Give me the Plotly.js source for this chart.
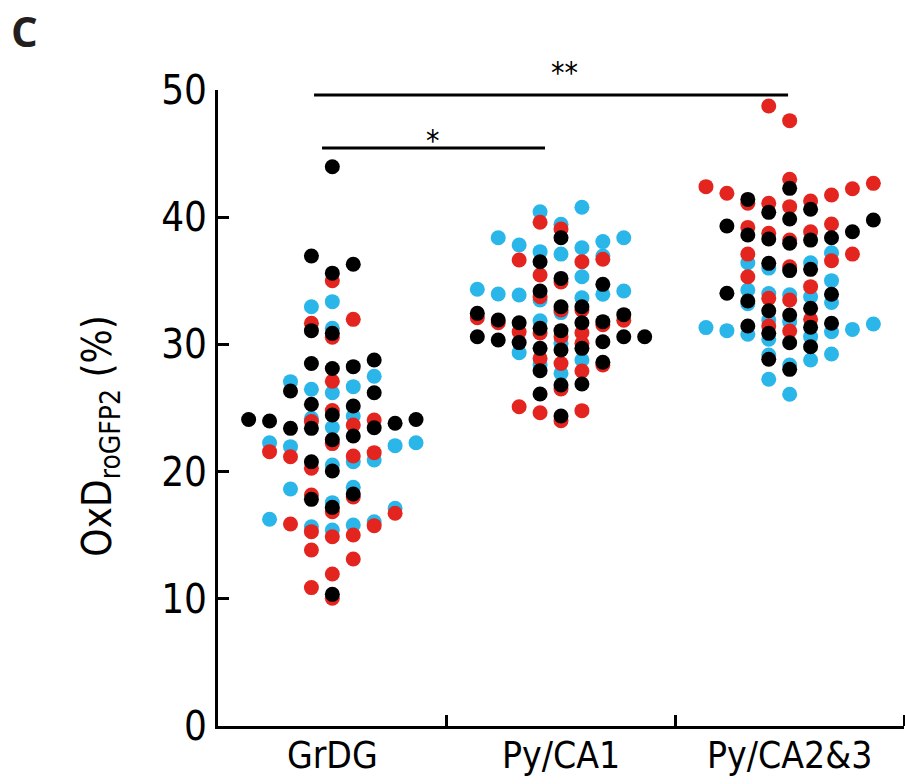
<!DOCTYPE html>
<html>
<head>
<meta charset="utf-8">
<script src="https://cdn.plot.ly/plotly-3.0.1.min.js"></script>
<style>html,body{margin:0;padding:0;background:#fff;}#chart{width:905px;height:784px;}</style>
</head>
<body>
<div id="chart"></div>
<script>
// Categories
const categories = ["GrDG", "Py/CA1", "Py/CA2&3"];

// Swarm column index and OxD values (%) for each group / colour
const grdgBlueCol = [0,-1,0,2,-2,-1,0,1,-1,1,0,-3,-2,3,4,2,1,0,-2,1,0,3,-3,-1,0,1,2];
const grdgBlueY   = [33.36,32.96,31.26,27.5,27.07,26.47,26.2,26.68,24.19,24.37,23.47,22.27,21.96,22.04,22.27,20.91,20.78,20.52,18.63,18.77,17.56,17.11,16.25,15.67,15.41,15.8,16.06];
const grdgRedCol  = [0,1,-1,0,0,-1,0,1,2,0,-3,-2,2,1,-1,-1,1,0,3,-2,-1,0,1,2,-1,1,0,-1,0];
const grdgRedY    = [35.0,31.97,31.66,30.56,27.1,23.93,24.8,23.66,24.06,22.2,21.57,21.17,21.49,21.23,20.26,18.16,18.0,16.85,16.72,15.88,15.28,14.88,15.02,15.75,13.84,13.13,11.95,10.88,10.04];
const grdgBlackCol= [0,-1,1,0,-1,0,-1,0,1,2,-2,2,-1,1,-1,0,1,0,2,-4,-3,-2,3,4,-1,0,-1,1,0,0];
const grdgBlackY  = [43.97,36.95,36.3,35.6,31.08,30.87,28.5,28.1,28.25,28.77,26.34,26.2,25.29,25.16,23.4,24.45,22.8,22.5,23.45,24.1,23.98,23.4,23.8,24.1,20.78,20.05,17.82,18.24,17.19,10.35];

const ca1BlueCol  = [1,-1,0,-3,-2,3,2,-1,0,1,2,1,2,3,-4,-3,-2,-1,1,0,-1,0,-2,-1,1,0];
const ca1BlueY    = [40.78,40.43,39.44,38.39,37.81,38.39,38.08,37.29,37.1,37.6,36.95,35.32,33.94,34.2,34.33,33.96,33.88,33.5,33.67,32.5,31.86,30.1,29.35,28.4,28.77,27.72];
const ca1RedCol   = [-1,0,-2,1,2,-1,0,-1,0,1,-4,-3,-2,-1,0,1,2,3,-1,0,1,2,1,0,-2,-1,0,1];
const ca1RedY     = [39.6,39.07,36.63,36.5,36.69,35.46,34.9,33.75,32.7,32.7,32.1,31.7,31.0,30.9,30.6,30.92,31.55,31.9,28.9,28.5,30.09,28.38,27.91,26.5,25.1,24.63,24.0,24.79];
const ca1BlackCol = [0,-1,0,2,-1,0,1,-4,-3,-2,-1,0,1,2,3,-4,-3,-2,-1,0,1,2,3,4,-1,0,1,2,-1,0];
const ca1BlackY   = [38.39,36.5,35.19,34.72,34.2,32.96,32.96,32.44,31.92,31.7,31.26,31.08,31.7,31.79,32.34,30.6,30.35,30.14,29.69,29.56,29.69,30.21,30.6,30.6,27.93,26.81,26.89,28.6,26.1,24.37];

const ca23BlueCol = [2,-2,-1,1,-2,2,1,2,-2,-1,0,-1,-1,0,1,1,2,2,-2,-4,-3,3,4,-1,0,-1,0];
const ca23BlueY   = [37.2,36.42,36.0,36.42,34.28,35.01,33.75,33.3,33.2,34.0,33.9,31.92,30.4,31.79,30.61,28.77,31.0,29.25,30.8,31.32,31.08,31.18,31.6,29.17,28.38,27.26,26.08];
const ca23RedCol  = [-1,0,-4,-3,-2,-1,0,0,1,2,3,4,-2,-1,0,1,2,-2,3,2,-2,1,-1,0,-1,0,1,0];
const ca23RedY    = [48.74,47.59,42.4,41.88,41.1,41.09,42.98,40.83,41.27,41.75,42.24,42.66,39.2,38.73,38.2,38.86,39.47,37.1,37.1,36.58,35.32,34.54,33.62,33.49,31.45,31.05,31.97,36.1];
const ca23BlackCol= [-2,-1,0,0,1,-3,-2,-1,0,1,2,3,4,-1,0,1,-3,-2,2,1,-1,0,-1,0,1,1,2,-2,-1,0];
const ca23BlackY  = [41.4,40.38,42.27,39.86,40.62,39.31,38.6,38.29,37.95,38.2,38.39,38.86,39.78,36.37,35.8,35.9,34.02,33.41,33.94,32.84,32.65,32.31,30.87,30.13,31.35,29.82,31.66,31.45,28.83,28.04];

const yTicks = [0,10,20,30,40,50];

const BLUE = "#2bb6ea", RED = "#e4251f", BLACK = "#000000";
const COL_STEP = 0.0915;
const FONT = "Liberation Sans Narrow, Arial Narrow, DejaVu Sans Condensed, sans-serif";

function toX(groupIndex, cols) { return cols.map(c => groupIndex + c * COL_STEP); }

const groups = [
  {blue:[grdgBlueCol,grdgBlueY], red:[grdgRedCol,grdgRedY], black:[grdgBlackCol,grdgBlackY]},
  {blue:[ca1BlueCol,ca1BlueY], red:[ca1RedCol,ca1RedY], black:[ca1BlackCol,ca1BlackY]},
  {blue:[ca23BlueCol,ca23BlueY], red:[ca23RedCol,ca23RedY], black:[ca23BlackCol,ca23BlackY]}
];

const traces = [];
[["blue", BLUE], ["red", RED], ["black", BLACK]].forEach(([key, color]) => {
  groups.forEach((g, i) => {
    traces.push({
      type: "scatter", mode: "markers",
      x: toX(i, g[key][0]), y: g[key][1],
      marker: {color: color, size: 15, line: {width: 0}},
      hoverinfo: "y", showlegend: false, cliponaxis: false
    });
  });
});

const layout = {
  width: 905, height: 784,
  margin: {l: 218, r: 1, t: 90, b: 58},
  paper_bgcolor: "#fff", plot_bgcolor: "#fff",
  font: {family: FONT, color: "#000"},
  showlegend: false,
  xaxis: {
    range: [-0.5, 2.5], tickvals: [0,1,2], ticktext: categories,
    ticks: "", showgrid: false, zeroline: false,
    showline: true, linewidth: 3, linecolor: "#000",
    tickfont: {size: 37, family: FONT},
    ticklabelstandoff: -5,
    minor: {tickvals: [0.5,1.5,2.5], ticks: "inside", ticklen: 11, tickwidth: 3, tickcolor: "#000", showgrid: false},
    fixedrange: true
  },
  yaxis: {
    range: [0, 50], tickvals: yTicks, ticktext: yTicks.map(String),
    ticks: "inside", ticklen: 11, tickwidth: 3, tickcolor: "#000",
    showgrid: false, zeroline: false,
    showline: true, linewidth: 3, linecolor: "#000",
    tickfont: {size: 40, family: FONT},
    fixedrange: true
  },
  shapes: [
    {type: "line", xref: "x", yref: "y", x0: -0.08, x1: 1.993, y0: 49.6, y1: 49.6, line: {color: "#000", width: 3}},
    {type: "line", xref: "x", yref: "y", x0: -0.045, x1: 0.93, y0: 45.44, y1: 45.44, line: {color: "#000", width: 3}}
  ],
  annotations: [
    {text: "**", xref: "x", yref: "paper", x: 1.017, y: 1.028, xanchor: "center", yanchor: "middle", showarrow: false, font: {size: 30, family: FONT}},
    {text: "*", xref: "x", yref: "paper", x: 0.44, y: 0.921, xanchor: "center", yanchor: "middle", showarrow: false, font: {size: 30, family: FONT}},
    {text: "<b>C</b>", xref: "paper", yref: "paper", x: -0.305, y: 1.142, xanchor: "left", yanchor: "top", showarrow: false, font: {size: 42, family: "Open Sans, sans-serif", color: "#231f20"}},
    {text: "OxD<sub>roGFP2</sub> (%)", xref: "paper", yref: "paper", x: -0.172, y: 0.455, xanchor: "center", yanchor: "middle", textangle: -90, showarrow: false, font: {size: 40, family: FONT}}
  ]
};

Plotly.newPlot("chart", traces, layout, {staticPlot: true, displayModeBar: false});
</script>
</body>
</html>
